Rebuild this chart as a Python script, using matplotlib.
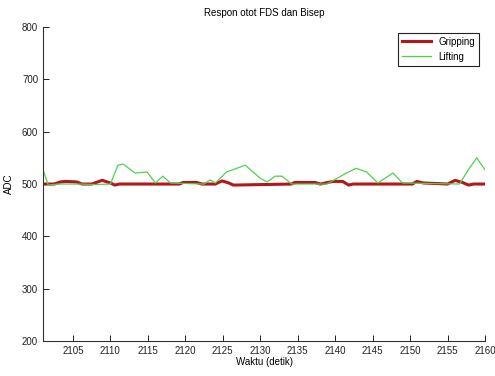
import matplotlib
matplotlib.use("Agg")
import matplotlib.pyplot as plt

plt.rcParams['font.family'] = ['Liberation Sans', 'DejaVu Sans']

# Gripping (red)
gripping_t = [2101, 2102.5, 2103.3, 2104, 2105.5, 2106.2, 2107.5, 2108.9, 2110, 2110.6,
              2111.2, 2119.2, 2119.7, 2121.5, 2122.2, 2124.0, 2124.9, 2125.8, 2126.4,
              2134.2, 2134.6, 2137.3, 2138.0, 2139.7, 2141.0, 2141.8, 2142.4, 2150.3,
              2150.9, 2151.8, 2155.0, 2156.0, 2157.0, 2157.8, 2158.5, 2160]
gripping_v = [500, 500, 504, 505, 504, 500, 500, 507, 502, 498,
              500, 500, 503, 503, 500, 500, 506, 502, 498,
              500, 503, 503, 500, 505, 505, 498, 500, 500,
              505, 502, 500, 507, 503, 498, 500, 500]

# Lifting (green)
lifting_t = [2101, 2101.7, 2103, 2106, 2108, 2110, 2111, 2111.7, 2113.3, 2114.9,
             2116, 2117, 2118, 2122.5, 2123.3, 2124, 2125.5, 2128, 2130, 2130.9,
             2132, 2132.9, 2134.2, 2138.9, 2141.5, 2142.8, 2144.2, 2145.7, 2147.7,
             2149, 2156.6, 2157.9, 2158.9, 2160]
lifting_v = [527, 498, 500, 500, 499, 500, 536, 538, 521, 523,
             502, 515, 502, 500, 508, 502, 523, 536, 511, 504,
             515, 515, 500, 500, 521, 530, 523, 502, 521,
             502, 500, 530, 550, 527]

fig = plt.figure(figsize=(4.95, 3.76), dpi=100)
ax = fig.add_axes([0.0869, 0.0931, 0.8929, 0.8349])

ax.plot(gripping_t, gripping_v, color='#b3161b', lw=2.2, label='Gripping')
ax.plot(lifting_t, lifting_v, color='#4fd14f', lw=0.9, label='Lifting')

ax.set_xlim(2101, 2160)
ax.set_ylim(200, 800)
ax.set_xticks(range(2105, 2161, 5))
ax.set_yticks(range(200, 801, 100))
for s in ['top', 'right']:
    ax.spines[s].set_visible(False)
for s in ['left', 'bottom']:
    ax.spines[s].set_color('#333333')
    ax.spines[s].set_linewidth(0.8)
ax.tick_params(direction='in', length=4, width=0.7, labelsize=7, colors='#222222')

ax.set_title('Respon otot FDS dan Bisep', fontsize=7, pad=8)
ax.set_xlabel('Waktu (detik)', fontsize=7, labelpad=1)
ax.set_ylabel('ADC', fontsize=7, labelpad=6)

leg = ax.legend(loc='upper right', fontsize=7, fancybox=False, edgecolor='#222222',
                handlelength=3.0, borderaxespad=0.6, framealpha=1)
leg.get_frame().set_linewidth(0.8)

fig.savefig('out.png', dpi=100)
